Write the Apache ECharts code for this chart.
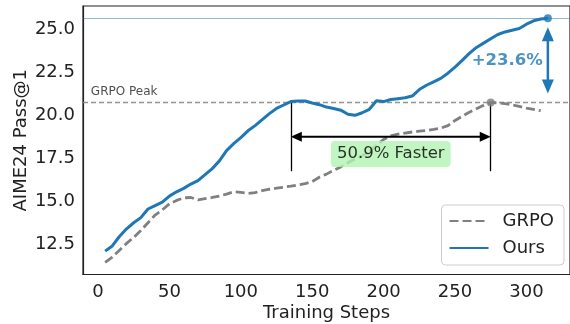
<!DOCTYPE html>
<html>
<head>
<meta charset="utf-8">
<script src="https://cdn.jsdelivr.net/npm/echarts@6/dist/echarts.min.js"></script>
<style>
  html, body { margin: 0; padding: 0; background: #fff; }
  #chart { width: 570px; height: 324px; }
</style>
</head>
<body>
<div id="chart"></div>
<script>
// Training curves: AIME24 Pass@1 vs. training steps
const grpoSteps = [5, 10, 15, 20, 25, 30, 35, 40, 45, 50, 55, 60, 65, 70, 75, 80, 85, 90, 95, 100,
  105, 110, 115, 120, 125, 130, 135, 140, 145, 150, 155, 160, 165, 170, 175, 180, 185, 190, 195, 200,
  205, 210, 215, 220, 225, 230, 235, 240, 245, 250, 255, 260, 265, 270, 275, 280, 285, 290, 295, 300,
  305, 310];
const grpoValues = [11.45, 11.75, 12.15, 12.55, 12.9, 13.3, 13.75, 14.2, 14.5, 14.85, 15.05, 15.2, 15.22, 15.08, 15.15, 15.22, 15.3, 15.42, 15.55, 15.52,
  15.45, 15.5, 15.62, 15.7, 15.76, 15.82, 15.88, 15.95, 16.02, 16.15, 16.4, 16.58, 16.8, 17.0, 17.25, 17.45, 17.65, 17.88, 18.25, 18.6,
  18.8, 18.9, 18.97, 19.03, 19.08, 19.12, 19.18, 19.25, 19.4, 19.7, 19.95, 20.18, 20.38, 20.58, 20.75, 20.72, 20.68, 20.6, 20.52, 20.42,
  20.35, 20.27];

const oursSteps = [5, 10, 15, 20, 25, 30, 35, 40, 45, 50, 55, 60, 65, 70, 75, 80, 85, 90, 95, 100,
  105, 110, 115, 120, 125, 130, 135, 140, 145, 150, 155, 160, 165, 170, 175, 180, 185, 190, 195, 200,
  205, 210, 215, 220, 225, 230, 235, 240, 245, 250, 255, 260, 265, 270, 275, 280, 285, 290, 295, 300,
  305, 310, 315];
const oursValues = [12.1, 12.4, 12.95, 13.4, 13.75, 14.05, 14.55, 14.75, 14.95, 15.3, 15.55, 15.75, 16.0, 16.2, 16.55, 16.9, 17.35, 17.95, 18.35, 18.7,
  19.1, 19.4, 19.75, 20.1, 20.4, 20.6, 20.8, 20.83, 20.83, 20.72, 20.62, 20.48, 20.4, 20.3, 20.06, 20.0, 20.15, 20.35, 20.85, 20.8,
  20.92, 20.97, 21.02, 21.12, 21.5, 21.75, 21.95, 22.15, 22.45, 22.8, 23.2, 23.6, 23.95, 24.2, 24.45, 24.7, 24.85, 24.95, 25.05, 25.3,
  25.5, 25.6, 25.65];

const xTicks = [0, 50, 100, 150, 200, 250, 300];
const yTicks = [12.5, 15.0, 17.5, 20.0, 22.5, 25.0];

const BLUE = '#1f77b4';
const GRAY = '#808080';
const TEXT = '#222';
const FONT = 'DejaVu Sans';

// Derived quantities for the annotations
const pairs = (xs, ys) => xs.map((x, i) => [x, ys[i]]);
const grpoData = pairs(grpoSteps, grpoValues);
const oursData = pairs(oursSteps, oursValues);

const grpoPeak = Math.max(...grpoValues);
const grpoPeakStep = grpoSteps[grpoValues.indexOf(grpoPeak)];
const oursPeak = Math.max(...oursValues);
const oursPeakStep = oursSteps[oursValues.indexOf(oursPeak)];
const catchStep = oursSteps[oursValues.findIndex(v => v >= grpoPeak)];

const fasterPct = (1 - catchStep / grpoPeakStep) * 100;
const gainPct = (oursPeak / grpoPeak - 1) * 100;

// Vertical placement of the speed-up bracket, below the GRPO peak
const arrowDrop = 2;
const guideDrop = 4;
const labelDrop = 3;

// Axis extents with 5% padding around the data
const allX = grpoSteps.concat(oursSteps);
const allY = grpoValues.concat(oursValues);
const xLo = Math.min(...allX), xHi = Math.max(...allX);
const yLo = Math.min(...allY), yHi = Math.max(...allY);
const xPad = (xHi - xLo) * 0.05, yPad = (yHi - yLo) * 0.05;

function arrowRenderer(opt) {
  return function (params, api) {
    const a = api.coord([api.value(0), api.value(1)]);
    const b = api.coord([api.value(2), api.value(3)]);
    const dx = b[0] - a[0], dy = b[1] - a[1];
    const len = Math.hypot(dx, dy);
    const ux = dx / len, uy = dy / len;
    const p1 = [a[0] + ux * opt.shrink, a[1] + uy * opt.shrink];
    const p2 = [b[0] - ux * opt.shrink, b[1] - uy * opt.shrink];
    const L = opt.headLength, W = opt.headHalfWidth;
    const head = (tip, ex, ey) => {
      const bx = tip[0] - ex * L, by = tip[1] - ey * L;
      return {
        type: 'polygon',
        shape: { points: [tip, [bx - ey * W, by + ex * W], [bx + ey * W, by - ex * W]] },
        style: { fill: opt.color }
      };
    };
    return {
      type: 'group',
      children: [
        {
          type: 'line',
          shape: {
            x1: p1[0] + ux * L * 0.8, y1: p1[1] + uy * L * 0.8,
            x2: p2[0] - ux * L * 0.8, y2: p2[1] - uy * L * 0.8
          },
          style: { stroke: opt.color, lineWidth: opt.width }
        },
        head(p1, -ux, -uy),
        head(p2, ux, uy)
      ]
    };
  };
}

const chart = echarts.init(document.getElementById('chart'), null, { renderer: 'canvas' });

chart.setOption({
  animation: false,
  textStyle: { fontFamily: FONT },
  grid: {
    left: 83, right: 0, top: 6, bottom: 49.5,
    containLabel: false,
    outerBoundsMode: 'none',
    show: true, borderColor: TEXT, borderWidth: 1.2, backgroundColor: 'transparent'
  },
  legend: {
    data: ['GRPO', 'Ours'],
    orient: 'vertical',
    right: 6, top: 205,
    padding: [7, 10, 8, 7],
    itemGap: 9,
    itemWidth: 39,
    itemHeight: 14,
    itemStyle: { opacity: 0 },
    backgroundColor: 'rgba(255,255,255,0.8)',
    borderColor: '#cccccc',
    borderWidth: 1,
    borderRadius: 4,
    textStyle: { fontFamily: FONT, fontSize: 18, color: TEXT, padding: [0, 0, 0, 9] }
  },
  xAxis: {
    type: 'value',
    min: xLo - xPad, max: xHi + xPad,
    name: 'Training Steps',
    nameLocation: 'middle',
    nameGap: 30,
    nameMoveOverlap: false,
    nameTextStyle: { fontFamily: FONT, fontSize: 18, color: TEXT },
    axisLine: { show: true, onZero: false, lineStyle: { color: TEXT, width: 1.2 } },
    axisTick: { show: false },
    splitLine: { show: false },
    axisLabel: {
      customValues: xTicks,
      margin: 9,
      fontFamily: FONT, fontSize: 18, color: TEXT
    }
  },
  yAxis: {
    type: 'value',
    min: yLo - yPad, max: yHi + yPad,
    name: 'AIME24 Pass@1',
    nameLocation: 'middle',
    nameGap: 53,
    nameMoveOverlap: false,
    nameTextStyle: { fontFamily: FONT, fontSize: 18, color: TEXT },
    axisLine: { show: true, onZero: false, lineStyle: { color: TEXT, width: 1.2 } },
    axisTick: { show: false },
    splitLine: { show: false },
    axisLabel: {
      customValues: yTicks,
      margin: 8,
      fontFamily: FONT, fontSize: 18, color: TEXT,
      formatter: v => v.toFixed(1)
    }
  },
  series: [
    {
      name: 'GRPO',
      type: 'line',
      data: grpoData,
      symbol: 'none',
      showSymbol: false,
      z: 3,
      lineStyle: { color: GRAY, width: 2.8, type: [9, 4] },
      itemStyle: { color: GRAY },
      markLine: {
        silent: true,
        symbol: 'none',
        z: 2,
        label: { show: false },
        lineStyle: { color: GRAY, width: 1.3, type: [5, 3], opacity: 0.85 },
        data: [
          { yAxis: grpoPeak },
          [
            { coord: [catchStep, grpoPeak], lineStyle: { color: '#000', width: 1.3, type: 'solid', opacity: 1 } },
            { coord: [catchStep, grpoPeak - guideDrop] }
          ],
          [
            { coord: [grpoPeakStep, grpoPeak], lineStyle: { color: '#000', width: 1.3, type: 'solid', opacity: 1 } },
            { coord: [grpoPeakStep, grpoPeak - guideDrop] }
          ]
        ]
      }
    },
    {
      name: 'Ours',
      type: 'line',
      data: oursData,
      symbol: 'none',
      showSymbol: false,
      z: 4,
      lineStyle: { color: BLUE, width: 3 },
      itemStyle: { color: BLUE },
      markLine: {
        silent: true,
        symbol: 'none',
        z: 2,
        label: { show: false },
        lineStyle: { color: BLUE, width: 1, type: 'solid', opacity: 0.5 },
        data: [{ yAxis: oursPeak }]
      }
    },
    {
      name: 'speedup-arrow',
      type: 'custom',
      coordinateSystem: 'cartesian2d',
      silent: true,
      clip: false,
      z: 5,
      renderItem: arrowRenderer({ color: '#000', width: 2, shrink: 0, headLength: 11, headHalfWidth: 5 }),
      data: [[catchStep, grpoPeak - arrowDrop, grpoPeakStep, grpoPeak - arrowDrop]]
    },
    {
      name: 'gain-arrow',
      type: 'custom',
      coordinateSystem: 'cartesian2d',
      silent: true,
      clip: false,
      z: 5,
      renderItem: arrowRenderer({ color: BLUE, width: 2.5, shrink: 9, headLength: 14, headHalfWidth: 6 }),
      data: [[oursPeakStep, oursPeak, oursPeakStep, grpoPeak]]
    },
    {
      name: 'peaks',
      type: 'scatter',
      silent: true,
      z: 6,
      symbolSize: 8,
      data: [
        { value: [grpoPeakStep, grpoPeak], itemStyle: { color: GRAY } },
        { value: [oursPeakStep, oursPeak], itemStyle: { color: BLUE } }
      ]
    },
    {
      name: 'notes',
      type: 'scatter',
      silent: true,
      z: 7,
      symbolSize: 0,
      data: [
        {
          value: [xLo - 10, grpoPeak],
          label: {
            show: true, position: 'top', align: 'left', distance: 5,
            formatter: 'GRPO Peak',
            fontFamily: FONT, fontSize: 12, color: TEXT
          }
        },
        {
          value: [(catchStep + grpoPeakStep) / 2, grpoPeak - labelDrop],
          label: {
            show: true, position: 'inside',
            formatter: fasterPct.toFixed(1) + '% Faster',
            fontFamily: FONT, fontSize: 16.5, color: '#000',
            backgroundColor: '#b1f3b1',
            borderRadius: 4,
            padding: [5, 6, 4, 6]
          }
        },
        {
          value: [oursPeakStep, (oursPeak + grpoPeak) / 2],
          label: {
            show: true, position: 'left', distance: 5,
            formatter: '+' + gainPct.toFixed(1) + '%',
            fontFamily: FONT, fontSize: 16.5, fontWeight: 'bold', color: BLUE
          }
        }
      ]
    }
  ]
});
</script>
</body>
</html>
